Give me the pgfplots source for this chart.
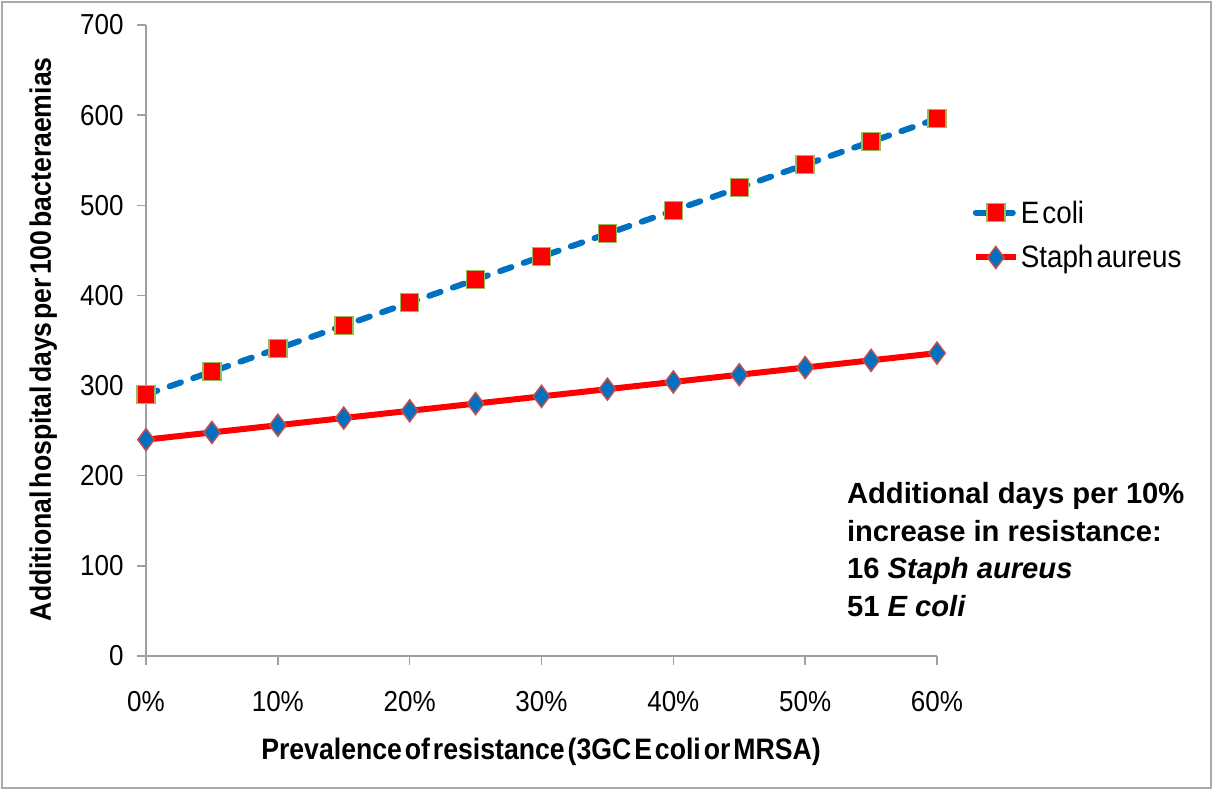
\documentclass[border=0pt]{standalone}
\usepackage{fontspec}
\setmainfont{Liberation Sans}[WordSpace=0.4, FakeStretch=0.9]
\newfontfamily\annot{Liberation Sans}
\usepackage{pgfplots}
\pgfplotsset{compat=1.18}
\definecolor{ecblue}{HTML}{0070C0}
\definecolor{stred}{HTML}{FF0000}
\definecolor{sqedge}{HTML}{9BBB59}
\definecolor{diaedge}{HTML}{C0504D}
\definecolor{axgray}{HTML}{A0A0A0}
\begin{document}
\begin{tikzpicture}[x=1bp,y=1bp]
\path[use as bounding box] (0,0) rectangle (1213,790);
\draw[color=axgray!90, line width=2bp] (2,2) rectangle (1211,788);
\begin{axis}[
  at={(146bp,134bp)}, anchor=south west,
  width=791bp, height=631bp, scale only axis,
  xmin=0, xmax=60, ymin=0, ymax=700,
  xtick={0,10,...,60}, ytick={0,100,...,700},
  xticklabel={\pgfmathprintnumber{\tick}\%},
  axis x line*=bottom, axis y line*=left,
  axis line style={axgray, line width=1.5bp},
  tick style={axgray, line width=1.5bp},
  major tick length=9bp, tick align=outside,
  ticklabel style={font=\fontsize{29}{32}\selectfont},
  xticklabel style={yshift=-23bp},
  yticklabel style={xshift=-10bp},
  /pgf/number format/assume math mode=true,
  xlabel={\bfseries Prevalence of resistance (3GC E coli or MRSA)},
  ylabel={\bfseries Additional hospital days per 100 bacteraemias},
  xlabel style={at={(axis description cs:0.4994,-0.152)}, anchor=center, font=\fontsize{29.7}{32}\selectfont},
  ylabel style={at={(axis description cs:-0.130,0.502)}, anchor=center, font=\fontsize{29.7}{32}\selectfont},
  clip=false,
  legend style={at={(1.045,0.725)}, anchor=north west, draw=none, fill=none,
    font=\fontsize{31}{34}\selectfont, row sep=17bp, inner sep=0pt},
  legend cell align=left,
  legend image code/.code={\draw[#1, mark repeat=2, mark phase=2] plot coordinates {(0bp,0bp)(20bp,0bp)(40bp,0bp)};},
]
\addplot[ecblue, line width=6bp, dash pattern=on 12bp off 13bp, line cap=round,
  mark=square*, mark size=9bp, mark options={solid, fill=red, draw=sqedge, line width=1.5bp}]
  coordinates {(0,290)(5,315.5)(10,341)(15,366.5)(20,392)(25,417.5)(30,443)(35,468.5)(40,494)(45,519.5)(50,545)(55,570.5)(60,596)};
\addlegendentry{E coli}
\addplot[stred, line width=6bp,
  mark=diamond*, mark size=11bp, mark options={solid, fill=ecblue, draw=diaedge, line width=1.5bp}]
  coordinates {(0,240)(5,248)(10,256)(15,264)(20,272)(25,280)(30,288)(35,296)(40,304)(45,312)(50,320)(55,328)(60,336)};
\addlegendentry{Staph aureus}
\node[anchor=north west, align=left, inner sep=0pt,
  font=\annot\bfseries\fontsize{29.3}{38}\selectfont]
  at (rel axis cs:0.886,0.276)
  {Additional days per 10\%\\ increase in resistance:\\ 16 \textit{Staph aureus}\\ 51 \textit{E coli}};
\end{axis}
\end{tikzpicture}
\end{document}
